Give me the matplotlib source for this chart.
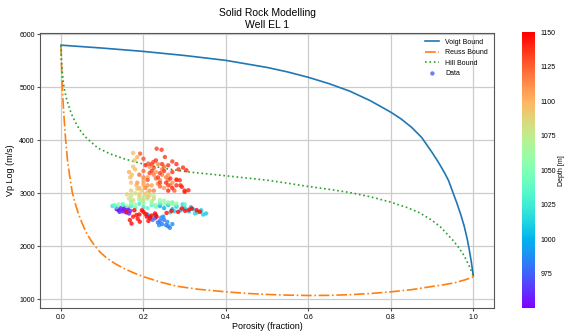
import numpy as np
import matplotlib
matplotlib.use("Agg")
import matplotlib.pyplot as plt

plt.rcParams["font.family"] = ["Liberation Sans", "DejaVu Sans"]

# Bounds (porosity fraction -> Vp m/s)
voigt_phi = [0.0, 0.1, 0.2, 0.3, 0.4, 0.5, 0.55, 0.6, 0.65, 0.7, 0.75, 0.8, 0.825,
             0.85, 0.875, 0.9, 0.915, 0.93, 0.94, 0.95, 0.96, 0.97, 0.978, 0.985,
             0.99, 0.995, 1.0]
voigt_vp = [5790, 5735, 5672, 5595, 5503, 5370, 5285, 5184, 5065, 4925, 4745, 4527, 4400,
            4245, 4050, 3770, 3590, 3390, 3240, 3030, 2820, 2590, 2380, 2150,
            1950, 1720, 1450]

reuss_phi = [0.0, 0.001, 0.003, 0.005, 0.007, 0.011, 0.016, 0.022, 0.027, 0.034,
             0.042, 0.052, 0.062, 0.072, 0.082, 0.095, 0.111, 0.13, 0.151, 0.175,
             0.2, 0.24, 0.281, 0.33, 0.4, 0.45, 0.5, 0.55, 0.6, 0.65, 0.7, 0.75,
             0.8, 0.85, 0.89, 0.93, 0.955, 0.98, 1.0]
reuss_vp = [5790, 5450, 5000, 4720, 4470, 4030, 3600, 3280, 3030, 2820,
            2620, 2420, 2250, 2120, 2010, 1890, 1780, 1680, 1590, 1505,
            1430, 1330, 1250, 1195, 1144, 1115, 1095, 1082, 1075, 1078, 1090, 1112,
            1144, 1185, 1233, 1280, 1315, 1370, 1425]

hill_phi = [0.0, 0.001, 0.003, 0.005, 0.008, 0.012, 0.018, 0.025, 0.034, 0.045,
            0.058, 0.075, 0.09, 0.12, 0.155, 0.2, 0.249, 0.309, 0.4, 0.5, 0.55,
            0.6, 0.65, 0.7, 0.75, 0.8, 0.84, 0.87, 0.9, 0.92, 0.935, 0.95, 0.963,
            0.975, 0.983, 0.992, 1.0]
hill_vp = [5790, 5500, 5285, 5120, 4970, 4820, 4660, 4500, 4350, 4200,
           4070, 3950, 3850, 3740, 3645, 3550, 3471, 3402, 3330, 3246, 3190,
           3128, 3075, 3015, 2935, 2833, 2730, 2632, 2490, 2370, 2246, 2120, 1994,
           1860, 1745, 1600, 1450]

# Well log samples: porosity, Vp, depth
data_phi = [
    # blue, lower lobe
    0.215, 0.222, 0.228, 0.235, 0.24, 0.245, 0.25, 0.255, 0.26, 0.264, 0.23,
    0.248, 0.238, 0.27, 0.258, 0.21, 0.243,
    # purple
    0.135, 0.14, 0.145, 0.15, 0.152, 0.158, 0.16, 0.165, 0.168, 0.142, 0.155, 0.162,
    # blue / cyan right arm
    0.24, 0.25, 0.26, 0.27, 0.28, 0.29, 0.3, 0.31, 0.32, 0.33, 0.34, 0.352,
    0.345, 0.315, 0.275, 0.295, 0.265, 0.325,
    # cyan
    0.125, 0.135, 0.15, 0.17, 0.19, 0.2, 0.22, 0.24, 0.26, 0.28, 0.3, 0.21,
    0.18, 0.23, 0.27,
    # green
    0.13, 0.15, 0.17, 0.19, 0.2, 0.21, 0.22, 0.23, 0.24, 0.25, 0.26, 0.18,
    0.16, 0.2, 0.225, 0.27, 0.195, 0.14, 0.17, 0.22, 0.25, 0.28,
    # tan
    0.165, 0.17, 0.18, 0.19, 0.2, 0.21, 0.215, 0.185, 0.175, 0.225, 0.195, 0.205,
    0.17, 0.19, 0.21, 0.16, 0.2,
    0.17, 0.172, 0.175, 0.178, 0.175, 0.168, 0.18, 0.183, 0.19, 0.185, 0.165, 0.2,
    # orange
    0.2, 0.21, 0.22, 0.23, 0.24, 0.25, 0.26, 0.27, 0.215, 0.235, 0.245, 0.205,
    0.225, 0.255, 0.265, 0.28, 0.23, 0.2, 0.19, 0.25, 0.24, 0.275,
    0.21, 0.225, 0.245, 0.26, 0.2, 0.235, 0.215, 0.185,
    # orange-red
    0.192, 0.2, 0.212, 0.224, 0.225, 0.232, 0.244, 0.252, 0.26, 0.27, 0.28, 0.296,
    0.304, 0.288, 0.309, 0.3, 0.293, 0.28, 0.26, 0.24, 0.22, 0.205, 0.255, 0.27,
    0.29, 0.215, 0.235, 0.25, 0.265, 0.28, 0.245, 0.23, 0.27, 0.285, 0.21, 0.26,
    0.3, 0.24, 0.22,
    # red, deepest
    0.159, 0.167, 0.171, 0.183, 0.2, 0.216, 0.228, 0.191, 0.208, 0.196, 0.175,
    0.186, 0.205, 0.22, 0.178, 0.212, 0.19, 0.232,
    0.256, 0.268, 0.284, 0.301, 0.317, 0.329, 0.337, 0.293, 0.31,
]
data_vp = [
    2560, 2500, 2530, 2450, 2480, 2420, 2500, 2400, 2380, 2350, 2590,
    2560, 2400, 2420, 2460, 2600, 2540,
    2700, 2680, 2720, 2660, 2700, 2640, 2690, 2620, 2670, 2650, 2730, 2710,
    2760, 2720, 2780, 2700, 2750, 2680, 2720, 2660, 2700, 2640, 2680, 2620,
    2600, 2740, 2660, 2790, 2640, 2620,
    2760, 2740, 2780, 2760, 2800, 2740, 2780, 2810, 2800, 2770, 2790, 2720,
    2730, 2750, 2830,
    2780, 2800, 2840, 2880, 2820, 2900, 2850, 2780, 2870, 2800, 2830, 2790,
    2760, 2930, 2950, 2790, 2860, 2790, 2800, 2820, 2860, 2810,
    2900, 2950, 3000, 2930, 2880, 3020, 2960, 3080, 2870, 2900, 3050, 2990,
    3050, 2980, 2930, 2980, 3150,
    3200, 3350, 3500, 3620, 3760, 3300, 3450, 3150, 3100, 3680, 3400, 3250,
    3200, 3300, 3150, 3400, 3250, 3100, 3350, 3200, 3500, 3550, 3450, 3100,
    3050, 3300, 3150, 3250, 3280, 3420, 3350, 3500, 3130, 3050,
    3150, 3350, 3350, 3250, 3300, 3180, 3050, 3200,
    3747, 3650, 3559, 3590, 3480, 3840, 3820, 3683, 3527, 3400, 3550, 3484,
    3434, 3246, 3058, 3027, 3121, 3258, 3150, 3380, 3420, 3530, 3200, 3100,
    3150, 3380, 3300, 3420, 3280, 3150, 3550, 3620, 3600, 3450, 3250, 3050,
    3050, 3200, 3550,
    2650, 2495, 2430, 2590, 2650, 2530, 2620, 2465, 2560, 2680, 2560,
    2520, 2610, 2580, 2680, 2480, 2600, 2560,
    2630, 2670, 2650, 2670, 2715, 2683, 2650, 2715, 2690,
]
data_depth = [
    975, 977, 978, 979, 980, 981, 982, 983, 984, 985, 976,
    986, 987, 988, 989, 990, 991,
    950, 951, 952, 953, 954, 955, 956, 957, 958, 959, 960, 961,
    998, 999, 1000, 1001, 1002, 1003, 1004, 1005, 1006, 1007, 1008, 1009,
    1010, 1011, 1012, 1013, 1014, 1015,
    1018, 1020, 1022, 1024, 1026, 1028, 1030, 1031, 1032, 1033, 1034, 1035,
    1036, 1037, 1038,
    1042, 1044, 1046, 1048, 1050, 1052, 1054, 1056, 1058, 1060, 1062, 1064,
    1065, 1066, 1067, 1068, 1070, 1055, 1058, 1062, 1064, 1066,
    1080, 1081, 1082, 1083, 1084, 1085, 1086, 1087, 1088, 1089, 1090, 1091,
    1090, 1092, 1094, 1088, 1098,
    1092, 1093, 1094, 1095, 1096, 1097, 1098, 1099, 1100, 1101, 1102, 1103,
    1105, 1106, 1107, 1108, 1109, 1110, 1111, 1112, 1113, 1114, 1115, 1116,
    1117, 1118, 1119, 1120, 1121, 1122, 1123, 1124, 1125, 1126,
    1112, 1115, 1118, 1120, 1114, 1116, 1110, 1108,
    1128, 1129, 1130, 1131, 1132, 1133, 1134, 1135, 1136, 1137, 1138, 1139,
    1140, 1140, 1141, 1141, 1142, 1142, 1132, 1134, 1136, 1138, 1139, 1140,
    1141, 1133, 1135, 1137, 1138, 1139, 1136, 1137, 1135, 1138, 1130, 1140,
    1141, 1134, 1133,
    1146, 1146, 1147, 1147, 1148, 1148, 1149, 1149, 1150, 1150, 1146,
    1147, 1148, 1149, 1150, 1148, 1149, 1150,
    1146, 1147, 1148, 1149, 1150, 1150, 1149, 1148, 1147,
]

fig = plt.figure(figsize=(5.69, 3.33), dpi=100)
ax = fig.add_axes([0.071, 0.075, 0.797, 0.827])
cax = fig.add_axes([0.917, 0.075, 0.023, 0.828])

ax.plot(voigt_phi, voigt_vp, color="#1f77b4", lw=1.2, label="Voigt Bound")
ax.plot(reuss_phi, reuss_vp, color="#ff7f0e", lw=1.2, ls="-.", label="Reuss Bound")
ax.plot(hill_phi, hill_vp, color="#2ca02c", lw=1.2, ls=":", label="Hill Bound")
sc = ax.scatter(data_phi, data_vp, c=data_depth, cmap="rainbow", vmin=950, vmax=1150,
                s=10, alpha=0.8, linewidths=0, label="Data", zorder=3)

ax.grid(True, color="#cccccc", lw=0.9)
ax.set_axisbelow(True)
for sp in ax.spines.values():
    sp.set_color("#555555")
ax.tick_params(labelsize=5, length=2, pad=2, color="#555555")
ax.set_xlabel("Porosity (fraction)", fontsize=6.5, labelpad=1)
ax.set_ylabel("Vp Log (m/s)", fontsize=6.5, labelpad=3)
ax.set_title("Solid Rock Modelling\nWell EL 1", fontsize=7.5, pad=3, linespacing=1.3)
ax.legend(loc="upper right", fontsize=5, frameon=False)

cb = fig.colorbar(sc, cax=cax)
cb.set_ticks([975, 1000, 1025, 1050, 1075, 1100, 1125, 1150])
cb.ax.tick_params(labelsize=5, length=0, pad=4)
cb.outline.set_visible(False)
cb.set_label("Depth [m]", fontsize=5, labelpad=1.5)
cb.solids.set_alpha(1)

fig.savefig("out.png", dpi=100)
